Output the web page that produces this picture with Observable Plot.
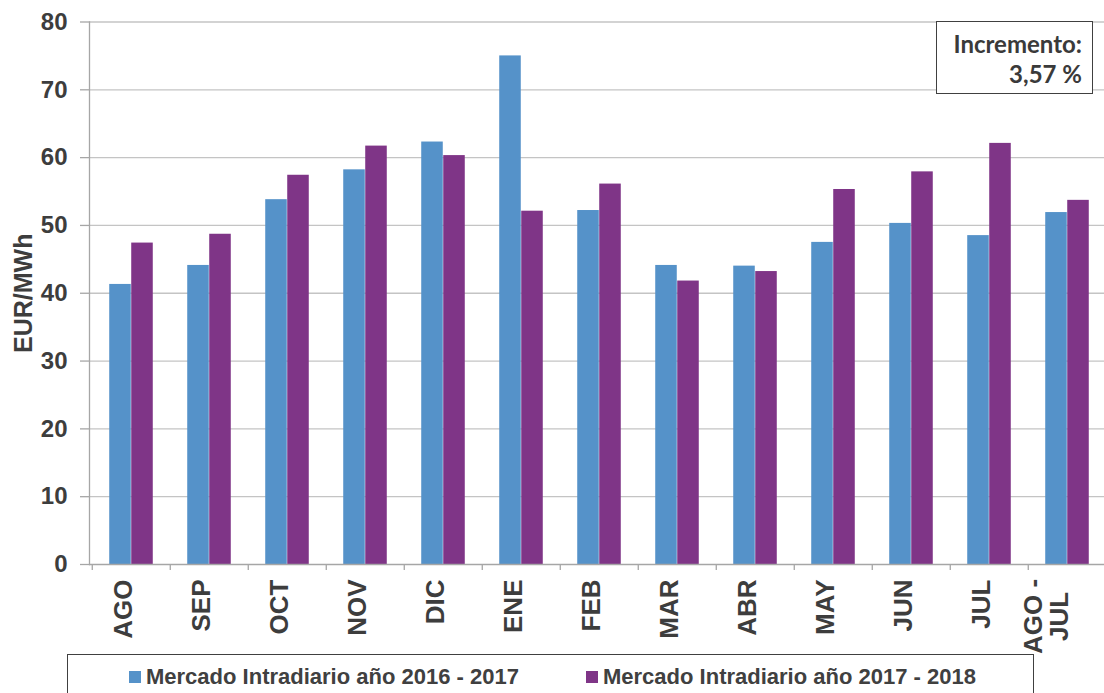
<!DOCTYPE html>
<html><head><meta charset="utf-8">
<script src="https://cdn.jsdelivr.net/npm/d3@7"></script>
<script src="https://cdn.jsdelivr.net/npm/@observablehq/plot@0.6"></script>
<style>
body{margin:0;background:#fff;overflow:hidden;font-family:"Liberation Sans",Arial,sans-serif;color:#404040;}
#wrap{position:relative;width:1104px;height:693px;overflow:hidden;}
#wrap svg{overflow:visible;}
#note{position:absolute;left:936px;top:21px;width:157px;height:73px;border:1.3px solid #404040;box-sizing:border-box;background:#fff;
  font-family:Lato,"Open Sans",sans-serif;font-weight:bold;font-size:24px;text-align:right;padding:7px 10px 0 0;line-height:30px;color:#3a3a3a;}
#legend{position:absolute;left:67px;top:654px;width:967px;height:60px;border:1.3px solid #404040;box-sizing:border-box;background:#fff;}
.li{position:absolute;top:10px;font-weight:bold;font-size:22px;white-space:nowrap;line-height:24px;}
.sw{display:inline-block;width:12px;height:12px;margin-right:5px;vertical-align:1px;}
</style></head><body><div id="wrap"></div>
<script>
const months = ["AGO","SEP","OCT","NOV","DIC","ENE","FEB","MAR","ABR","MAY","JUN","JUL","AGO -\nJUL"];
const serie1617 = [41.3,44.1,53.8,58.2,62.3,75.0,52.2,44.1,44.0,47.5,50.3,48.5,51.9];
const serie1718 = [47.4,48.7,57.4,61.7,60.3,52.1,56.1,41.8,43.2,55.3,57.9,62.1,53.7];
const seriesNames = ["Mercado Intradiario año 2016 - 2017","Mercado Intradiario año 2017 - 2018"];
const seriesColors = ["#5592c9","#7f3587"];
const yTicks = [0,10,20,30,40,50,60,70,80];
const yLabel = "EUR/MWh";
const noteLines = ["Incremento:","3,57 %"];

const data = [];
months.forEach((m,i)=>{
  data.push({month:m, series:seriesNames[0], value:serie1617[i]});
  data.push({month:m, series:seriesNames[1], value:serie1718[i]});
});

const x0 = 89, x1 = 1109;
const step = (x1 - x0) / months.length;
const barW = 22;
const outer = (step - 2*barW)/2;
const axisGray = "#a6a6a6";
const txt = "#3d3d3d";

const chart = Plot.plot({
  width:1104, height:654, marginLeft:x0, marginRight:0, marginTop:21.5, marginBottom:90,
  style:{fontFamily:"Liberation Sans, Arial, sans-serif", fontWeight:"bold", color:txt, background:"white", overflow:"visible"},
  x:{type:"band", domain:months, range:[x0,x1], padding:0, axis:null},
  y:{domain:[0,80], axis:null},
  marks:[
    Plot.ruleY(yTicks.filter(d=>d>0), {stroke:"#c4c4c4", strokeWidth:1.3}),
    Plot.barY(data.filter(d=>d.series===seriesNames[0]), {x:"month", y:"value", fill:seriesColors[0], insetLeft:outer, insetRight:outer+barW}),
    Plot.barY(data.filter(d=>d.series===seriesNames[1]), {x:"month", y:"value", fill:seriesColors[1], insetLeft:outer+barW, insetRight:outer}),
    Plot.ruleY([0], {stroke:axisGray, strokeWidth:1.3}),
    Plot.ruleX(months, {x:d=>d, dx:-step/2, y1:0, y2:0, insetBottom:-6, stroke:axisGray, strokeWidth:1.3}),
    Plot.frame({anchor:"left", stroke:axisGray, strokeWidth:1.3}),
    Plot.axisY({ticks:yTicks, tickSize:9, tickPadding:13, fontSize:24, fontWeight:"bold", stroke:axisGray, strokeWidth:1.3, fill:txt, label:null, tickFormat:d=>String(d)}),
    Plot.text([yLabel], {frameAnchor:"left", textAnchor:"middle", rotate:-90, dx:-66, dy:0, fontSize:25, fontWeight:"bold", fill:txt}),
    Plot.text(months.filter(m=>!m.includes("\n")), {x:d=>d, frameAnchor:"bottom", rotate:-90, textAnchor:"end", dy:15, fontSize:26, fontWeight:"bold", fill:txt}),
    Plot.text(months.filter(m=>m.includes("\n")), {x:d=>d, frameAnchor:"bottom", rotate:-90, textAnchor:"middle", dy:52, lineHeight:1.0, fontSize:26, fontWeight:"bold", fill:txt})
  ]
});
const wrap = document.getElementById("wrap");
wrap.appendChild(chart);

const note = document.createElement("div");
note.id = "note";
note.innerHTML = noteLines.map(s=>`<div>${s}</div>`).join("");
wrap.appendChild(note);

const legend = document.createElement("div");
legend.id = "legend";
const lx = [61, 518];
seriesNames.forEach((s,i)=>{
  const it = document.createElement("div");
  it.className = "li";
  it.style.left = lx[i] + "px";
  it.innerHTML = `<span class="sw" style="background:${seriesColors[i]}"></span>${s}`;
  legend.appendChild(it);
});
wrap.appendChild(legend);
</script></body></html>
